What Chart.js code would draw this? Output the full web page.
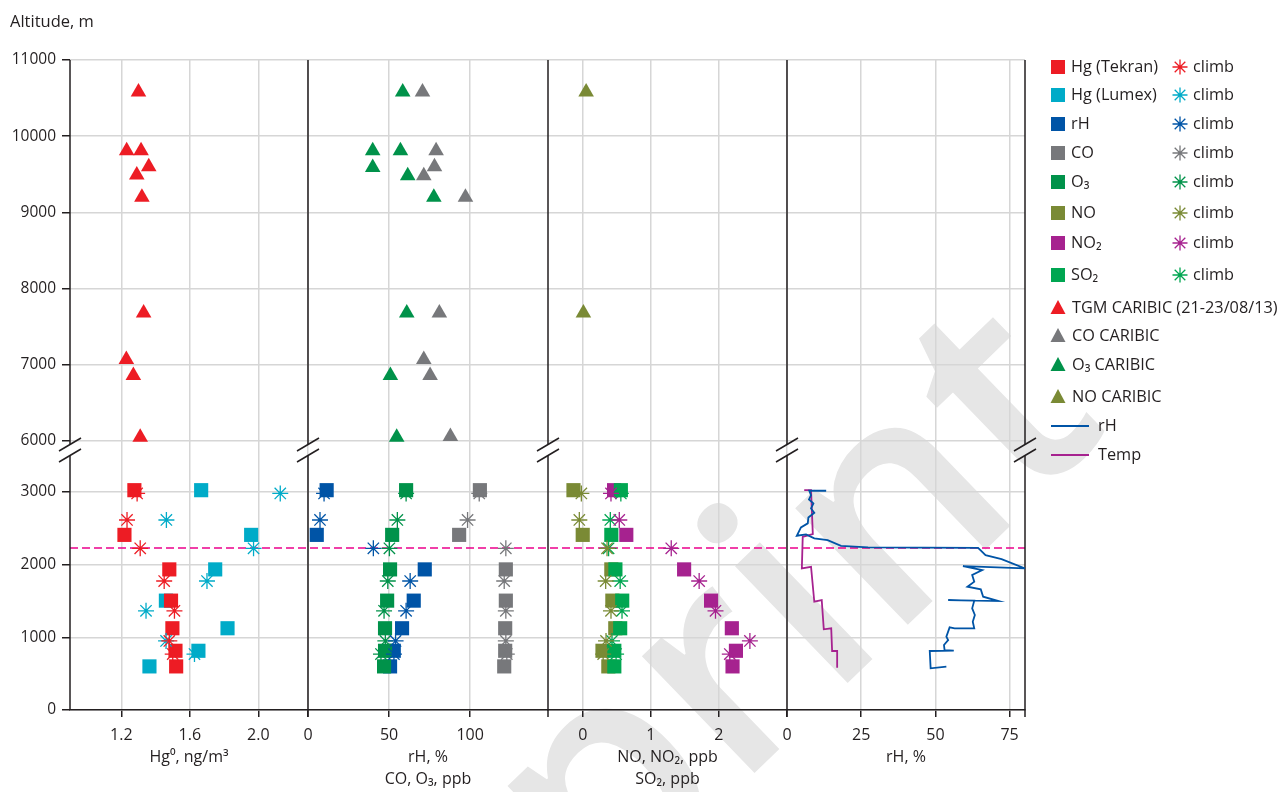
<!DOCTYPE html>
<html>
<head>
<meta charset="utf-8">
<script src="https://cdn.jsdelivr.net/npm/chart.js@4.4.1/dist/chart.umd.min.js"></script>
<style>
  html, body { margin: 0; padding: 0; background: #fff; }
  #c { display: block; }
</style>
</head>
<body>
<canvas id="c" width="1284" height="792"></canvas>
<script>
// tick labels
const hgTicks = [1.2, 1.6, 2.0];
const rhTicks = [0, 50, 100];
const noTicks = [0, 1, 2];
const rh2Ticks = [0, 25, 50, 75];
const lowAltTicks = [0, 1000, 2000, 3000];
const highAltTicks = [6000, 7000, 8000, 9000, 10000, 11000];

// flight levels of the aircraft (descent = squares, climb = asterisks)
const descentAlt = [3025, 2410, 1935, 1505, 1125, 815, 600];
const climbAlt = [2980, 2615, 2225, 1775, 1365, 950, 770];
const inversionAlt = 2230;

const tekran = [1.276, 1.218, 1.48, 1.49, 1.498, 1.516, 1.52];
const tekranClimb = [1.292, 1.233, 1.31, 1.45, 1.51, 1.48, 1.50];
const lumex = [1.666, 1.958, 1.748, 1.46, 1.82, 1.65, 1.364];
const lumexClimb = [2.128, 1.463, 1.972, 1.70, 1.344, 1.461, 1.627];
const rhPts = [11.5, 5.4, 72, 65.2, 58, 52.9, 50.6];
const rhClimb = [9.9, 7.4, 40.3, 63, 60.5, 54, 53];
const coPts = [106, 93.2, 122, 122, 121.6, 121.6, 121];
const coClimb = [105.6, 98.4, 122, 121, 122, 122, 122.6];
const o3Pts = [60.5, 51.9, 50.6, 48.8, 47.5, 47.5, 46.9];
const o3Climb = [60.5, 55.1, 50.2, 49.2, 46.9, 47.7, 45];
const noPts = [-0.136, 0, 0.42, 0.435, 0.478, 0.29, 0.376];
const noClimb = [-0.02, -0.05, 0.357, 0.337, 0.415, 0.342, 0.30];
const no2Pts = [0.46, 0.64, 1.489, 1.885, 2.19, 2.25, 2.2];
const no2Climb = [0.415, 0.537, 1.30, 1.71, 1.95, 2.455, 2.16];
const so2Pts = [0.56, 0.42, 0.48, 0.58, 0.55, 0.464, 0.464];
const so2Climb = [0.56, 0.405, 0.38, 0.55, 0.577, 0.43, 0.49];

// CARIBIC (upper troposphere)
const tgmAlt = [10580, 9810, 9810, 9600, 9490, 9200, 7680, 7070, 6860, 6050];
const tgmHg = [1.30, 1.231, 1.315, 1.36, 1.29, 1.32, 1.33, 1.229, 1.27, 1.31];
const coCarAlt = [10580, 9810, 9600, 9480, 9200, 7680, 7070, 6860, 6060];
const coCar = [70.6, 79, 78, 71.4, 97.1, 81, 71.4, 75.3, 87.8];
const o3CarAlt = [10580, 9810, 9810, 9590, 9480, 9200, 7680, 6860, 6050];
const o3Car = [58.4, 39.9, 57, 39.9, 61.5, 77.6, 60.9, 50.8, 54.7];
const noCarAlt = [10580, 7680];
const noCar = [0.05, 0.01];

// profiles
const rhLineAlt = [3017, 3017, 2957, 2898, 2843, 2774, 2714, 2650, 2568, 2513, 2398, 2416, 2361, 2338, 2260, 2238,
  2232, 2132, 2077, 1949, 1981, 1926, 1857, 1765, 1696, 1660, 1559, 1499, 1513, 1504, 1399, 1307, 1215, 1124,
  1124, 1137, 1008, 963, 894, 825, 816, 812, 573, 596];
const rhLine = [13.2, 7.5, 8.1, 7.4, 8.9, 8.1, 9.2, 7.2, 7.0, 4.7, 3.3, 6.4, 9.2, 13.7, 18.2, 27.3,
  64.4, 66.9, 72.3, 80.2, 59.3, 65.8, 62.4, 63.1, 60.8, 65.3, 66.1, 71.2, 54.3, 63.1, 62.4, 63.3, 62.6, 63.1,
  56.5, 54.8, 53.7, 54.3, 52.9, 53.1, 56.2, 48.1, 48.4, 53.7];
const tempLineAlt = [3026, 3026, 2420, 2384, 1949, 1971, 1490, 1513, 1110, 1124, 812, 812, 582];
const tempLine = [5.8, 8.1, 8.7, 5.3, 5.0, 8.1, 9.2, 11.7, 12.4, 14.9, 15.2, 16.9, 16.9];

const RED = '#ed1c24', CYAN = '#00abc8', BLUE = '#0054a6', GRAY = '#77787b',
      GREEN = '#00924a', OLIVE = '#7a8a35', PURPLE = '#a6228f', GREEN2 = '#00a651';
const INK = '#231f20', GRID = '#d6d6d6';
const FONT = "'Open Sans', sans-serif";

function pts(xs, ys) {
  return xs.map((v, i) => ({ x: v, y: ys[i] }));
}
function squares(label, xs, ys, color, xAxis) {
  return { label, data: pts(xs, ys), xAxisID: xAxis, yAxisID: 'yLow', pointStyle: 'rect',
    pointRadius: 10, pointBorderWidth: 0, backgroundColor: color, borderColor: color };
}
function stars(label, xs, ys, color, xAxis) {
  return { label, data: pts(xs, ys), xAxisID: xAxis, yAxisID: 'yLow', pointStyle: 'star',
    pointRadius: 8, pointBorderWidth: 1.3, backgroundColor: color, borderColor: color };
}
function triangles(label, xs, ys, color, xAxis) {
  return { label, data: pts(xs, ys), xAxisID: xAxis, yAxisID: 'yUp', pointStyle: 'triangle',
    pointRadius: 9, pointBorderWidth: 0, backgroundColor: color, borderColor: color };
}
function profile(label, xs, ys, color) {
  return { label, data: pts(xs, ys), xAxisID: 'x4', yAxisID: 'yLow', showLine: true,
    pointRadius: 0, borderWidth: 1.8, borderColor: color, backgroundColor: color, tension: 0 };
}

function setTicks(list) {
  return (scale) => { scale.ticks = list.map(v => ({ value: v })); };
}
function xAxis(ticks, min, max, weight, title, titlePad, fmt) {
  return {
    type: 'linear', position: 'bottom', stack: 'panels', stackWeight: weight, min, max,
    afterBuildTicks: setTicks(ticks),
    afterFit: (s) => { s.height = 82; },
    grid: { color: GRID, lineWidth: 1.5, tickColor: INK, tickLength: 7, tickWidth: 1.5 },
    border: { color: INK, width: 1.5 },
    ticks: { padding: 9, autoSkip: false, maxRotation: 0, color: INK, callback: fmt,
      font: { size: 16 } },
    title: { display: true, text: title, color: INK, font: { size: 16, lineHeight: 1.4 },
      padding: { top: 0, bottom: titlePad } }
  };
}
function yAxis(ticks, min, max, weight) {
  return {
    type: 'linear', position: 'left', stack: 'alt', stackWeight: weight, min, max,
    afterBuildTicks: setTicks(ticks),
    afterFit: (s) => { s.width = 70; },
    grid: { color: GRID, lineWidth: 1.5, tickColor: INK, tickLength: 8, tickWidth: 1.5 },
    border: { display: false },
    ticks: { padding: 6, autoSkip: false, color: INK, callback: (v) => String(v),
      font: { size: 15.5 } }
  };
}

const legendRows = [
  { kind: 'sq', text: 'Hg (Tekran)', color: RED, y: 67 },
  { kind: 'sq', text: 'Hg (Lumex)', color: CYAN, y: 95 },
  { kind: 'sq', text: 'rH', color: BLUE, y: 124 },
  { kind: 'sq', text: 'CO', color: GRAY, y: 153 },
  { kind: 'sq', text: 'O\u2083', color: GREEN, y: 182 },
  { kind: 'sq', text: 'NO', color: OLIVE, y: 213 },
  { kind: 'sq', text: 'NO\u2082', color: PURPLE, y: 243 },
  { kind: 'sq', text: 'SO\u2082', color: GREEN2, y: 275 },
  { kind: 'tri', text: 'TGM CARIBIC (21-23/08/13)', color: RED, y: 308 },
  { kind: 'tri', text: 'CO CARIBIC', color: GRAY, y: 336 },
  { kind: 'tri', text: 'O\u2083 CARIBIC', color: GREEN, y: 365 },
  { kind: 'tri', text: 'NO CARIBIC', color: OLIVE, y: 397 },
  { kind: 'line', text: 'rH', color: BLUE, y: 426 },
  { kind: 'line', text: 'Temp', color: PURPLE, y: 455 }
];

function drawStar(ctx, x, y, r) {
  const d = r * Math.SQRT1_2;
  ctx.beginPath();
  ctx.moveTo(x - r, y); ctx.lineTo(x + r, y);
  ctx.moveTo(x, y - r); ctx.lineTo(x, y + r);
  ctx.moveTo(x - d, y - d); ctx.lineTo(x + d, y + d);
  ctx.moveTo(x - d, y + d); ctx.lineTo(x + d, y - d);
  ctx.stroke();
}

const decor = {
  id: 'decor',
  beforeDraw(chart) {
    const ctx = chart.ctx;
    ctx.save();
    ctx.font = "600 300px " + FONT;
    ctx.fillStyle = '#e6e6e6';
    ctx.translate(830, 700);
    ctx.rotate(-44 * Math.PI / 180);
    ctx.textBaseline = 'alphabetic';
    ctx.fillText('Preprint', -ctx.measureText('Prepr').width, 0);
    ctx.restore();
  },
  beforeDatasetsDraw(chart) {
    const ctx = chart.ctx, area = chart.chartArea, s = chart.scales;
    ctx.save();
    // inversion line
    const yi = s.yLow.getPixelForValue(inversionAlt);
    ctx.strokeStyle = '#ec008c';
    ctx.lineWidth = 1.5;
    ctx.setLineDash([8, 4]);
    ctx.beginPath(); ctx.moveTo(area.left, yi); ctx.lineTo(area.right, yi); ctx.stroke();
    ctx.setLineDash([]);
    // panel dividers with axis break
    const brk = s.yUp.bottom;
    const b1 = brk - 5.5, b2 = brk + 5.5;
    const xs = [s.x1.left, s.x2.left, s.x3.left, s.x4.left, s.x4.right];
    ctx.strokeStyle = INK;
    ctx.lineWidth = 1.5;
    xs.forEach((x, i) => {
      const bottom = i === 0 ? area.bottom : area.bottom + 7;
      ctx.beginPath();
      ctx.moveTo(x, area.top); ctx.lineTo(x, b1);
      ctx.moveTo(x, b2); ctx.lineTo(x, bottom);
      ctx.stroke();
      [b1, b2].forEach((yb) => {
        ctx.beginPath();
        ctx.moveTo(x - 11, yb + 6.5); ctx.lineTo(x + 11, yb - 6.5);
        ctx.stroke();
      });
    });
    ctx.restore();
  },
  afterDraw(chart) {
    const ctx = chart.ctx;
    ctx.save();
    ctx.fillStyle = INK;
    ctx.font = "16.5px " + FONT;
    ctx.textBaseline = 'middle';
    ctx.textAlign = 'left';
    ctx.fillText('Altitude, m', 10, 22);
    ctx.font = "16.3px " + FONT;
    legendRows.forEach((r) => {
      ctx.fillStyle = r.color;
      ctx.strokeStyle = r.color;
      if (r.kind === 'sq') {
        ctx.fillRect(1051, r.y - 7, 14, 14);
        ctx.lineWidth = 1.3;
        drawStar(ctx, 1180, r.y, 7.5);
        ctx.fillStyle = INK;
        ctx.fillText(r.text, 1071, r.y);
        ctx.fillText('climb', 1193, r.y);
      } else if (r.kind === 'tri') {
        ctx.beginPath();
        ctx.moveTo(1058, r.y - 8); ctx.lineTo(1065.5, r.y + 6); ctx.lineTo(1050.5, r.y + 6);
        ctx.closePath(); ctx.fill();
        ctx.fillStyle = INK;
        ctx.fillText(r.text, 1072, r.y);
      } else {
        ctx.lineWidth = 1.8;
        ctx.beginPath(); ctx.moveTo(1051, r.y); ctx.lineTo(1089, r.y); ctx.stroke();
        ctx.fillStyle = INK;
        ctx.fillText(r.text, 1098, r.y);
      }
    });
    ctx.restore();
  }
};

Chart.defaults.font.family = FONT;
Chart.defaults.font.size = 16;
Chart.defaults.color = INK;

new Chart(document.getElementById('c'), {
  type: 'scatter',
  data: {
    datasets: [
      profile('rH', rhLine, rhLineAlt, BLUE),
      profile('Temp', tempLine, tempLineAlt, PURPLE),
      triangles('TGM CARIBIC (21-23/08/13)', tgmHg, tgmAlt, RED, 'x1'),
      triangles('CO CARIBIC', coCar, coCarAlt, GRAY, 'x2'),
      triangles('O3 CARIBIC', o3Car, o3CarAlt, GREEN, 'x2'),
      triangles('NO CARIBIC', noCar, noCarAlt, OLIVE, 'x3'),
      stars('Hg (Tekran) climb', tekranClimb, climbAlt, RED, 'x1'),
      stars('Hg (Lumex) climb', lumexClimb, climbAlt, CYAN, 'x1'),
      stars('rH climb', rhClimb, climbAlt, BLUE, 'x2'),
      stars('CO climb', coClimb, climbAlt, GRAY, 'x2'),
      stars('O3 climb', o3Climb, climbAlt, GREEN, 'x2'),
      stars('NO climb', noClimb, climbAlt, OLIVE, 'x3'),
      stars('NO2 climb', no2Climb, climbAlt, PURPLE, 'x3'),
      stars('SO2 climb', so2Climb, climbAlt, GREEN2, 'x3'),
      squares('Hg (Tekran)', tekran, descentAlt, RED, 'x1'),
      squares('Hg (Lumex)', lumex, descentAlt, CYAN, 'x1'),
      squares('O3', o3Pts, descentAlt, GREEN, 'x2'),
      squares('rH', rhPts, descentAlt, BLUE, 'x2'),
      squares('CO', coPts, descentAlt, GRAY, 'x2'),
      squares('SO2', so2Pts, descentAlt, GREEN2, 'x3'),
      squares('NO2', no2Pts, descentAlt, PURPLE, 'x3'),
      squares('NO', noPts, descentAlt, OLIVE, 'x3')
    ]
  },
  options: {
    responsive: false,
    animation: false,
    events: [],
    devicePixelRatio: 1,
    layout: { padding: { top: 60, right: 259, left: 0, bottom: 0 } },
    plugins: { legend: { display: false }, tooltip: { enabled: false } },
    scales: {
      x1: xAxis(hgTicks, 0.9, 2.29, 238, 'Hg\u2070, ng/m\u00b3', 23, (v) => v.toFixed(1)),
      x2: xAxis(rhTicks, 0, 148, 240, ['rH, %', 'CO, O\u2083, ppb'], 1, (v) => String(v)),
      x3: xAxis(noTicks, -0.51, 3.0, 239, ['NO, NO\u2082, ppb', 'SO\u2082, ppb'], 1, (v) => String(v)),
      x4: xAxis(rh2Ticks, 0, 80.2, 238, 'rH, %', 23, (v) => String(v)),
      yLow: yAxis(lowAltTicks, 0, 3578, 260),
      yUp: yAxis(highAltTicks, 5882, 11000, 390)
    }
  },
  plugins: [decor]
});
</script>
</body>
</html>
